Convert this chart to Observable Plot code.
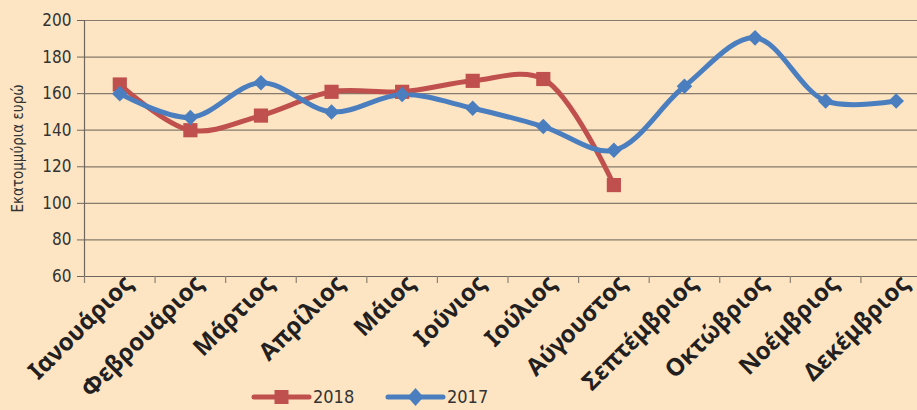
<!DOCTYPE html>
<html>
<head>
<meta charset="utf-8">
<script src="https://cdn.jsdelivr.net/npm/d3@7"></script>
<script src="https://cdn.jsdelivr.net/npm/@observablehq/plot@0.6"></script>
<style>
  html, body { margin: 0; padding: 0; background: #FDE5C3; overflow: hidden; }
  #wrap { position: relative; width: 917px; height: 410px; }
  #legend { position: absolute; left: 0; top: 384px; width: 917px; height: 26px; }
</style>
</head>
<body>
<div id="wrap"></div>
<script>
const months = ["Ιανουάριος","Φεβρουάριος","Μάρτιος","Απρίλιος","Μάιος","Ιούνιος","Ιούλιος","Αύγουστος","Σεπτέμβριος","Οκτώβριος","Νοέμβριος","Δεκέμβριος"];
const values2018 = [165, 140, 148, 161, 161, 167, 168, 110];
const values2017 = [160, 147, 166, 150, 159.5, 152, 142, 129, 164, 190.5, 156, 156];
const yTicks = [60, 80, 100, 120, 140, 160, 180, 200];
const series = ["2018", "2017"];
const colors = {"2018": "#C0504D", "2017": "#4A7EBF"};

const d2018 = values2018.map((v, i) => ({i, v}));
const d2017 = values2017.map((v, i) => ({i, v}));
const idx = months.map((m, i) => i);
const bounds = months.map((m, i) => i - 0.5).concat([months.length - 0.5]);

const condFont = '"Liberation Sans Narrow", "DejaVu Sans Condensed", sans-serif';

const chart = Plot.plot({
  width: 917,
  height: 410,
  marginLeft: 84,
  marginRight: 0,
  marginTop: 20,
  marginBottom: 134,
  style: {background: "transparent", overflow: "hidden"},
  x: {type: "linear", domain: [-0.5, 11.5], range: [84, 931], label: null},
  y: {domain: [60, 200], label: null},
  marks: [
    Plot.ruleY(yTicks.slice(1), {stroke: "#857A6B", strokeWidth: 1.2}),
    Plot.ruleY([60], {stroke: "#6E665C", strokeWidth: 1.2}),
    Plot.ruleX([-0.5], {y1: 60, y2: 200, stroke: "#6E665C", strokeWidth: 1.2}),
    Plot.axisX(bounds, {tickSize: 7, tickFormat: () => "", stroke: "#8C8272", strokeWidth: 1.2, label: null}),
    Plot.axisX(idx, {
      tickSize: 0, tickRotate: -45, tickPadding: 5,
      tickFormat: (d) => months[d],
      fontSize: 24, fontWeight: "bold", fontFamily: '"Noto Sans", "Open Sans", sans-serif',
      fill: "#231F20", dx: 9, dy: -2, label: null
    }),
    Plot.axisY(yTicks, {
      tickSize: 7, tickPadding: 6, stroke: "#6E665C",
      fontSize: 17, fontFamily: condFont, fill: "#333", label: null
    }),
    Plot.text(["Εκατομμύρια ευρώ"], {
      frameAnchor: "left", dx: -66, rotate: -90, textAnchor: "middle",
      fontSize: 15, fontFamily: condFont, fill: "#333"
    }),
    Plot.line(d2018, {x: "i", y: "v", curve: "catmull-rom", stroke: colors["2018"], strokeWidth: 5}),
    Plot.line(d2017, {x: "i", y: "v", curve: "catmull-rom", stroke: colors["2017"], strokeWidth: 5}),
    Plot.dot(d2018, {x: "i", y: "v", symbol: "square", r: 8, fill: colors["2018"], stroke: "none"}),
    Plot.dot(d2017, {x: "i", y: "v", symbol: "diamond2", r: 7, fill: colors["2017"], stroke: "none"})
  ]
});

const wrap = document.getElementById("wrap");
wrap.appendChild(chart);

// Legend
const ns = "http://www.w3.org/2000/svg";
const leg = document.createElementNS(ns, "svg");
leg.setAttribute("id", "legend");
leg.setAttribute("width", 917);
leg.setAttribute("height", 26);
const items = [
  {name: series[0], x0: 254, sym: "square"},
  {name: series[1], x0: 388, sym: "diamond"}
];
items.forEach(it => {
  const c = colors[it.name];
  const line = document.createElementNS(ns, "line");
  line.setAttribute("x1", it.x0); line.setAttribute("x2", it.x0 + 55);
  line.setAttribute("y1", 13); line.setAttribute("y2", 13);
  line.setAttribute("stroke", c); line.setAttribute("stroke-width", 5);
  line.setAttribute("stroke-linecap", "round");
  leg.appendChild(line);
  const cx = it.x0 + 27.5;
  let m;
  if (it.sym === "square") {
    m = document.createElementNS(ns, "rect");
    m.setAttribute("x", cx - 7); m.setAttribute("y", 6);
    m.setAttribute("width", 14); m.setAttribute("height", 14);
  } else {
    m = document.createElementNS(ns, "path");
    m.setAttribute("d", `M${cx},4 L${cx + 8},13 L${cx},22 L${cx - 8},13 Z`);
  }
  m.setAttribute("fill", c);
  leg.appendChild(m);
  const t = document.createElementNS(ns, "text");
  t.setAttribute("x", it.x0 + 59); t.setAttribute("y", 19);
  t.setAttribute("font-size", 18);
  t.setAttribute("font-family", condFont);
  t.setAttribute("fill", "#333");
  t.textContent = it.name;
  leg.appendChild(t);
});
wrap.appendChild(leg);
</script>
</body>
</html>
